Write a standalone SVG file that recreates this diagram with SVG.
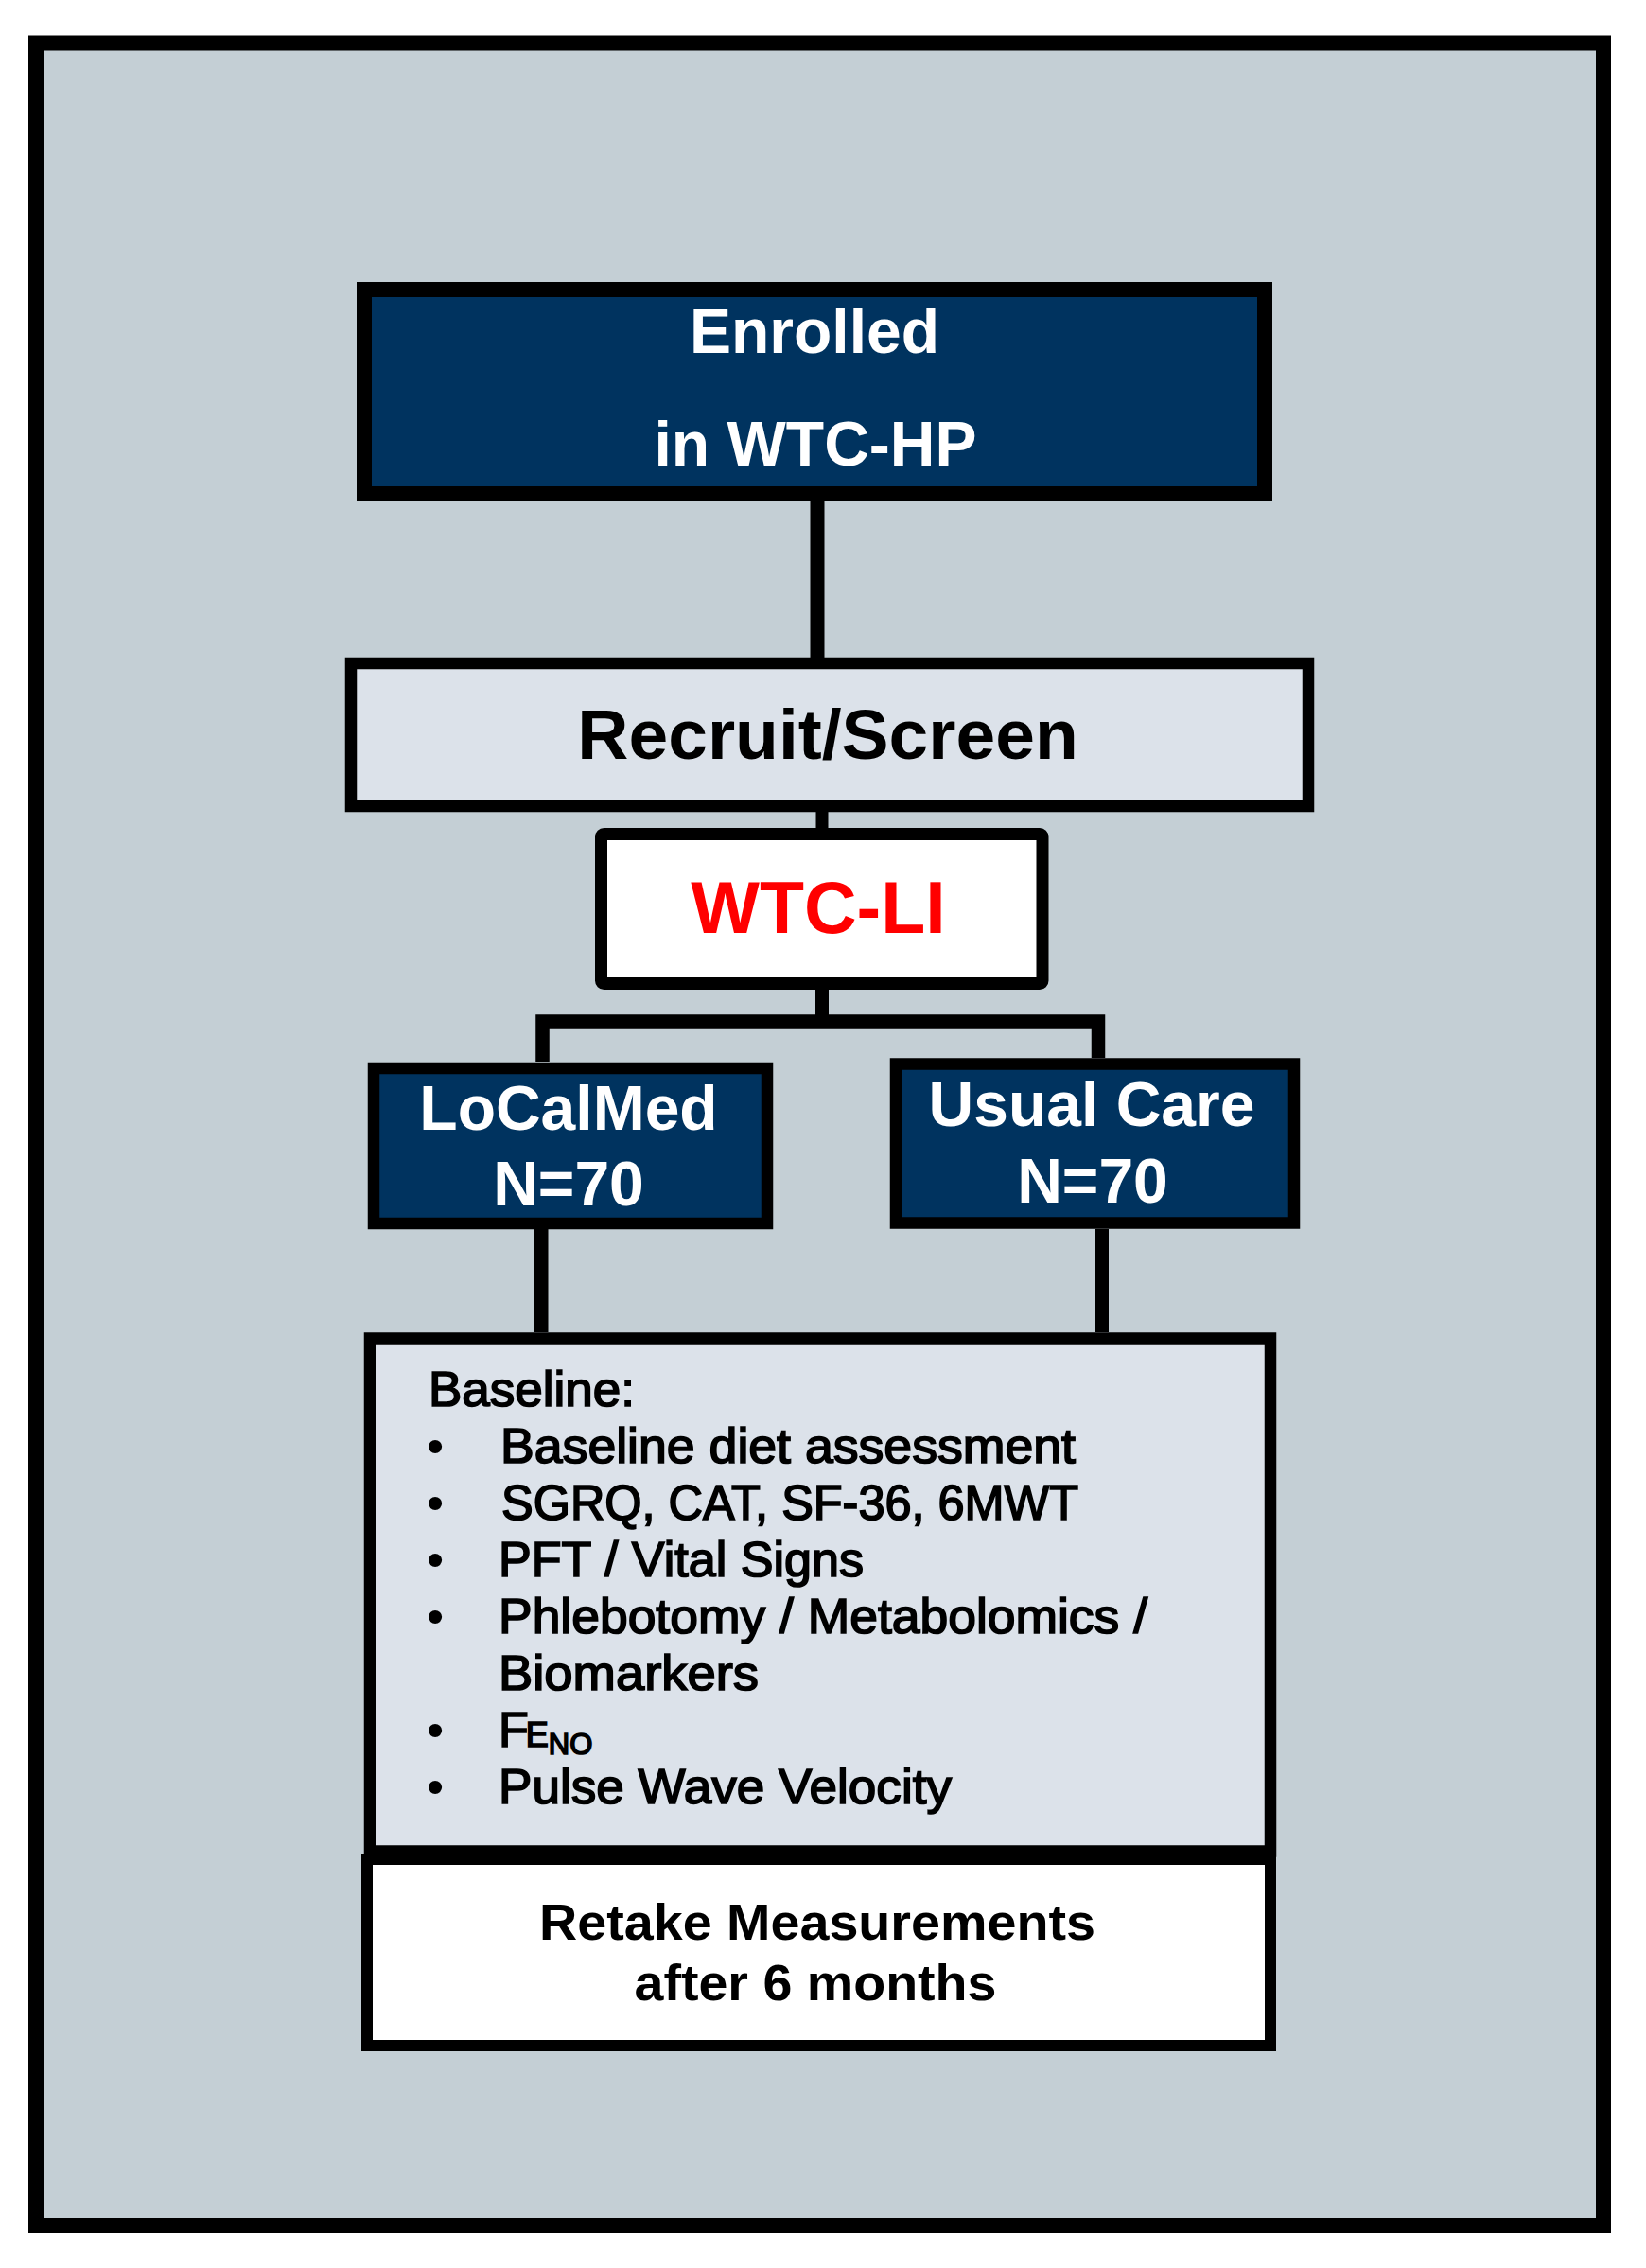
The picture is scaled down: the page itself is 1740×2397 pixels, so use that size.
<svg xmlns="http://www.w3.org/2000/svg" width="1740" height="2397" viewBox="0 0 1740 2397">
<style>
.frame{fill:#C4CFD5;stroke:#000;stroke-width:16}
.navy{fill:#00335F;stroke:#000}
.light{fill:#DCE2EA;stroke:#000}
.white{fill:#FFFFFF;stroke:#000}
.conn{fill:none;stroke:#000;stroke-linejoin:miter;stroke-linecap:butt}
text{font-family:"Liberation Sans",Arial,Helvetica,sans-serif}
.tw{fill:#FFFFFF;font-weight:bold;font-size:66px;text-anchor:middle}
.tb{fill:#000;font-weight:bold;text-anchor:middle}
.tred{fill:#FF0000;font-weight:bold;font-size:77px;text-anchor:middle}
.list{fill:#000;font-size:52px;stroke:#000;stroke-width:1.7}
.bul{fill:#000;font-size:52px;text-anchor:middle}
</style>
<rect x="0" y="0" width="1740" height="2397" fill="#FFFFFF"/>
<rect id="frame" class="frame" x="38" y="45.5" width="1657" height="2306.5"/>
<g id="connectors">
<path class="conn" stroke-width="15" d="M864 530 V695"/>
<path class="conn" stroke-width="13" d="M869 858 V875"/>
<path class="conn" stroke-width="14" d="M869 1046 V1079.5"/>
<path class="conn" stroke-width="14.5" d="M573.5 1122 V1079.5 H1161 V1118"/>
<path class="conn" stroke-width="15" d="M572 1299 V1408"/>
<path class="conn" stroke-width="14" d="M1165 1299 V1408"/>
</g>
<g id="enrolled">
<rect class="navy" stroke-width="16" x="385" y="306" width="952" height="216"/>
<text class="tw" x="861" y="373">Enrolled</text>
<text class="tw" x="862" y="492">in WTC-HP</text>
</g>
<g id="recruit">
<rect class="light" stroke-width="12.5" x="371" y="701" width="1012" height="151"/>
<text class="tb" font-size="75" x="875" y="802">Recruit/Screen</text>
</g>
<g id="wtcli">
<rect class="white" stroke-width="13" x="635.5" y="881.5" width="466.5" height="158" rx="3"/>
<text class="tred" x="865" y="986">WTC-LI</text>
</g>
<g id="localmed">
<rect class="navy" stroke-width="12.5" x="395" y="1129" width="416" height="164"/>
<text class="tw" x="601" y="1194">LoCalMed</text>
<text class="tw" x="601" y="1274">N=70</text>
</g>
<g id="usualcare">
<rect class="navy" stroke-width="12.5" x="947" y="1124.5" width="421" height="168"/>
<text class="tw" x="1154" y="1190">Usual Care</text>
<text class="tw" x="1155" y="1271">N=70</text>
</g>
<g id="baseline">
<rect class="light" stroke-width="12.5" x="391" y="1414.5" width="952" height="542"/>
<text class="list" x="453" y="1486" textLength="218" lengthAdjust="spacingAndGlyphs">Baseline:</text>
<text class="bul" x="460" y="1546">•</text>
<text class="list" x="529" y="1546" textLength="608" lengthAdjust="spacingAndGlyphs">Baseline diet assessment</text>
<text class="bul" x="460" y="1606">•</text>
<text class="list" x="530" y="1606" textLength="610" lengthAdjust="spacingAndGlyphs">SGRQ, CAT, SF-36, 6MWT</text>
<text class="bul" x="460" y="1666">•</text>
<text class="list" x="527" y="1666" textLength="386" lengthAdjust="spacingAndGlyphs">PFT / Vital Signs</text>
<text class="bul" x="460" y="1726">•</text>
<text class="list" x="527" y="1726" textLength="686" lengthAdjust="spacingAndGlyphs">Phlebotomy / Metabolomics /</text>
<text class="list" x="527" y="1786" textLength="275" lengthAdjust="spacingAndGlyphs">Biomarkers</text>
<text class="bul" x="460" y="1846">•</text>
<text class="list" x="527" y="1846">F<tspan font-size="36" dx="-3">E</tspan><tspan font-size="31" dy="8">NO</tspan></text>
<text class="bul" x="460" y="1906">•</text>
<text class="list" x="527" y="1906" textLength="479" lengthAdjust="spacingAndGlyphs">Pulse Wave Velocity</text>
</g>
<g id="retake">
<rect class="white" stroke-width="12" x="388" y="1965" width="955" height="197"/>
<text class="tb" font-size="54" x="864" y="2050" textLength="588" lengthAdjust="spacingAndGlyphs">Retake Measurements</text>
<text class="tb" font-size="54" x="862" y="2114" textLength="383" lengthAdjust="spacingAndGlyphs">after 6 months</text>
</g>
</svg>
